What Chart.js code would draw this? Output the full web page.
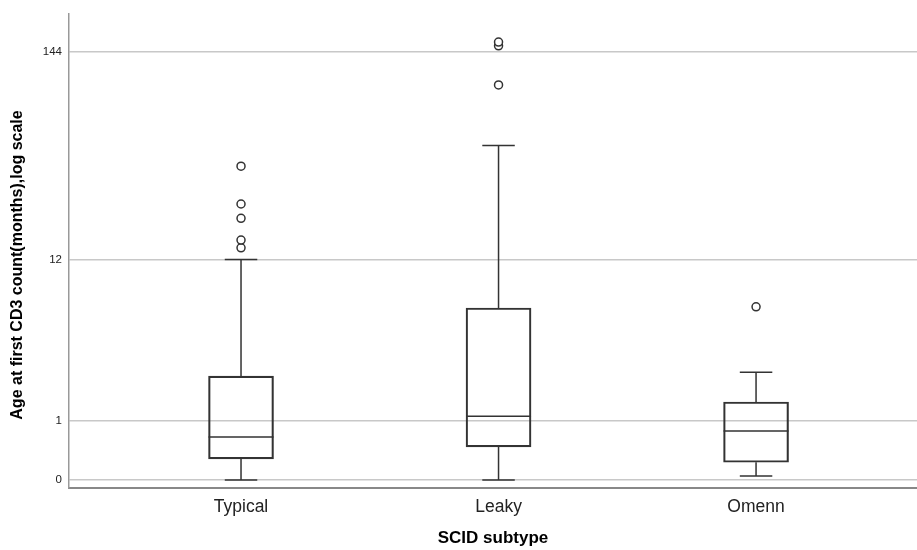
<!DOCTYPE html>
<html>
<head>
<meta charset="utf-8">
<script src="https://cdn.jsdelivr.net/npm/chart.js@4.4.1/dist/chart.umd.min.js"></script>
<style>
  html, body { margin: 0; padding: 0; background: #fff; }
  #wrap { width: 917px; height: 550px; }
</style>
</head>
<body>
<div id="wrap"><canvas id="myChart" width="917" height="550"></canvas></div>
<script>
// box plot values (months)
const categories = ['Typical', 'Leaky', 'Omenn'];
const lowWhisker = [0, 0, 0.05];
const q1 = [0.28, 0.47, 0.23];
const medians = [0.65, 1.1, 0.77];
const q3 = [2.35, 6.4, 1.48];
const highWhisker = [12, 48, 2.5];
const outliers = [
  [13.9, 15.3, 20, 23.8, 37.5],
  [98, 155, 162],
  [6.5]
];
const yTickValues = [0, 1, 12, 144];
const yTitle = 'Age at first CD3 count(months),log scale';

// axis is log10(months + 1)
const tr = v => Math.log10(v + 1);

const boxData = categories.map((c, i) => ({ x: i + 1, y: [tr(q1[i]), tr(q3[i])] }));
const outlierData = [];
outliers.forEach((list, i) => list.forEach(v => outlierData.push({ x: i + 1, y: tr(v) })));

const whiskerPlugin = {
  id: 'whiskers',
  afterDatasetsDraw(chart) {
    const { ctx, scales: { x, y } } = chart;
    const bars = chart.getDatasetMeta(0).data;
    ctx.save();
    ctx.strokeStyle = '#333';
    ctx.lineWidth = 1.5;
    categories.forEach((c, i) => {
      const px = x.getPixelForValue(i + 1);
      const half = bars[i].width / 2;
      const cap = half / 2;
      const yLo = y.getPixelForValue(tr(lowWhisker[i]));
      const yHi = y.getPixelForValue(tr(highWhisker[i]));
      const yQ1 = y.getPixelForValue(tr(q1[i]));
      const yQ3 = y.getPixelForValue(tr(q3[i]));
      const yMed = y.getPixelForValue(tr(medians[i]));
      ctx.beginPath();
      ctx.moveTo(px, yQ3); ctx.lineTo(px, yHi);
      ctx.moveTo(px - cap, yHi); ctx.lineTo(px + cap, yHi);
      ctx.moveTo(px, yQ1); ctx.lineTo(px, yLo);
      ctx.moveTo(px - cap, yLo); ctx.lineTo(px + cap, yLo);
      ctx.moveTo(px - half, yMed); ctx.lineTo(px + half, yMed);
      ctx.stroke();
    });
    ctx.restore();
  },
  // y title sits a bit below the plot centre in the original
  afterDraw(chart) {
    const { ctx, chartArea } = chart;
    ctx.save();
    ctx.translate(18, (chartArea.top + chartArea.bottom) / 2 + 14);
    ctx.rotate(-Math.PI / 2);
    ctx.font = 'bold 16px "Liberation Sans", Arial, sans-serif';
    ctx.fillStyle = '#000';
    ctx.textAlign = 'center';
    ctx.textBaseline = 'middle';
    ctx.fillText(yTitle, 0, 0);
    ctx.restore();
  }
};

new Chart(document.getElementById('myChart'), {
  data: {
    datasets: [
      {
        type: 'bar',
        data: boxData,
        backgroundColor: 'rgba(255,255,255,0)',
        borderColor: '#333',
        borderWidth: 1.5,
        borderSkipped: false,
        barThickness: 65
      },
      {
        type: 'line',
        data: outlierData,
        showLine: false,
        pointStyle: 'circle',
        pointRadius: 4,
        pointBorderWidth: 1.5,
        pointBorderColor: '#333',
        pointBackgroundColor: '#fff'
      }
    ]
  },
  options: {
    responsive: false,
    animation: false,
    layout: { autoPadding: false, padding: { left: 0, right: 0, top: 14, bottom: 0 } },
    plugins: { legend: { display: false }, tooltip: { enabled: false } },
    scales: {
      x: {
        type: 'linear',
        min: 0.332,
        max: 3.625,
        offset: false,
        grid: { display: false, drawTicks: false },
        border: { color: '#888', width: 2 },
        afterBuildTicks: s => { s.ticks = categories.map((c, i) => ({ value: i + 1 })); },
        afterFit: s => { s.height = 62; s.paddingLeft = 0; s.paddingRight = 0; },
        ticks: {
          padding: 9,
          color: '#222',
          font: { family: 'Liberation Sans, Arial, sans-serif', size: 17.5 },
          callback: (v, idx) => categories[idx]
        },
        title: {
          display: true,
          text: 'SCID subtype',
          color: '#000',
          font: { family: 'Liberation Sans, Arial, sans-serif', size: 17, weight: 'bold' },
          padding: { top: 0, bottom: 1 }
        }
      },
      y: {
        type: 'linear',
        min: -0.040,
        max: 2.354,
        grid: { color: '#c8c8c8', lineWidth: 1.5, drawTicks: false },
        border: { color: '#999', width: 1.5 },
        afterBuildTicks: s => { s.ticks = yTickValues.map(v => ({ value: tr(v) })); },
        afterFit: s => { s.width = 69; s.paddingTop = 0; s.paddingBottom = 0; },
        ticks: {
          padding: 7,
          color: '#222',
          font: { family: 'Liberation Sans, Arial, sans-serif', size: 11.5 },
          callback: (v, idx) => String(yTickValues[idx])
        },
        title: { display: false }
      }
    }
  },
  plugins: [whiskerPlugin]
});
</script>
</body>
</html>
